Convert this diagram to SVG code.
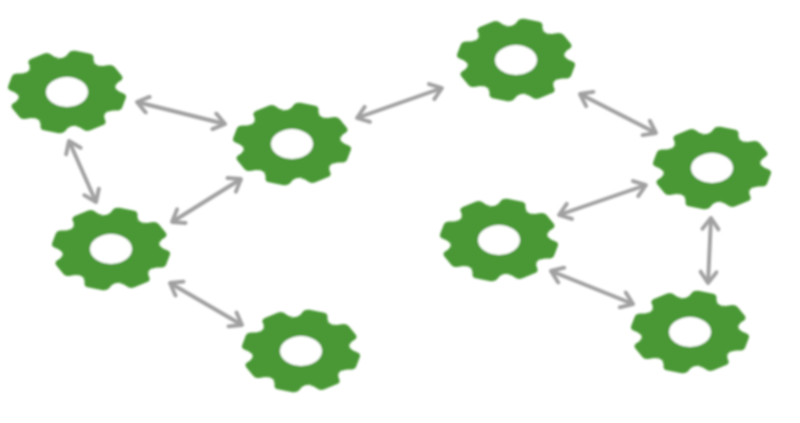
<svg xmlns="http://www.w3.org/2000/svg" width="800" height="423" viewBox="0 0 800 423">
<style>
.gear{fill:#4a9836}
.hole{fill:#fff}
.conn line{stroke:#a0a0a0;stroke-width:3.9;fill:none;marker-start:url(#head);marker-end:url(#head)}
</style>
<defs>
<filter id="soft" x="-5%" y="-5%" width="110%" height="110%"><feGaussianBlur stdDeviation="0.85"/></filter>
<marker id="head" viewBox="-14 -10 16 20" refX="0" refY="0" markerUnits="userSpaceOnUse" markerWidth="16" markerHeight="20" orient="auto-start-reverse">
<path d="M-11 -8L0 0L-11 8" fill="none" stroke="#a0a0a0" stroke-width="3.9" stroke-linecap="round" stroke-linejoin="round"/>
</marker>
<path id="tooth" d="M-17 -47Q-14 -48 -13 -54Q-12 -59 -7 -59L7 -59Q12 -59 13 -54Q14 -48 17 -47L0 -40Z"/>
<g id="gearShape" class="gear">
<g transform="scale(1 .7) rotate(15)">
<circle r="49"/>
<use href="#tooth"/>
<use href="#tooth" transform="rotate(45)"/>
<use href="#tooth" transform="rotate(90)"/>
<use href="#tooth" transform="rotate(135)"/>
<use href="#tooth" transform="rotate(180)"/>
<use href="#tooth" transform="rotate(225)"/>
<use href="#tooth" transform="rotate(270)"/>
<use href="#tooth" transform="rotate(315)"/>
</g>
<ellipse class="hole" rx="21" ry="15"/>
</g>
</defs>
<rect width="800" height="423" fill="#fff"/>
<g id="connectors" class="conn" filter="url(#soft)">
<line x1="137" y1="102" x2="225" y2="124"/>
<line x1="69" y1="141" x2="96" y2="202"/>
<line x1="172" y1="222" x2="241" y2="179"/>
<line x1="170" y1="283" x2="242" y2="325"/>
<line x1="357" y1="118" x2="442" y2="88"/>
<line x1="580" y1="94" x2="656" y2="133"/>
<line x1="559" y1="215" x2="646" y2="185"/>
<line x1="711" y1="218" x2="708" y2="283"/>
<line x1="551" y1="271" x2="633" y2="304"/>
</g>
<g id="gear1" filter="url(#soft)"><use href="#gearShape" x="67" y="92"/></g>
<g id="gear2" filter="url(#soft)"><use href="#gearShape" x="292" y="144"/></g>
<g id="gear3" filter="url(#soft)"><use href="#gearShape" x="111" y="249"/></g>
<g id="gear4" filter="url(#soft)"><use href="#gearShape" x="301" y="351"/></g>
<g id="gear5" filter="url(#soft)"><use href="#gearShape" x="516" y="60"/></g>
<g id="gear6" filter="url(#soft)"><use href="#gearShape" x="712" y="168"/></g>
<g id="gear7" filter="url(#soft)"><use href="#gearShape" x="499" y="240"/></g>
<g id="gear8" filter="url(#soft)"><use href="#gearShape" x="690" y="332"/></g>
</svg>
